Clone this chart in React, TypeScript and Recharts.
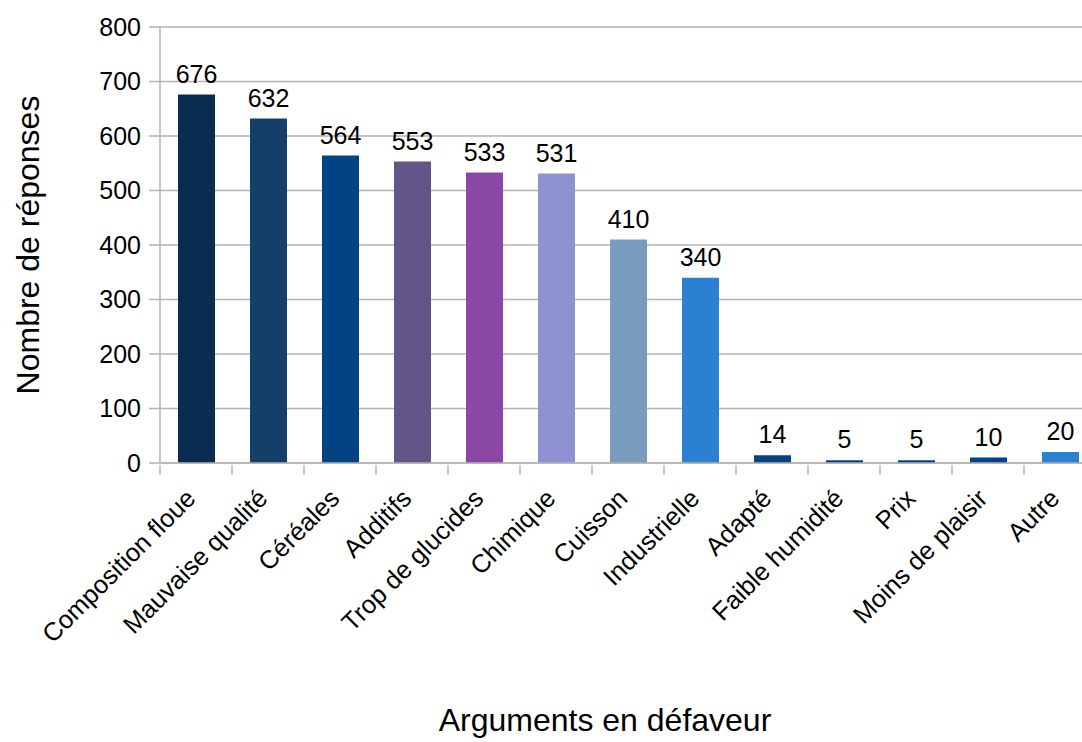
import React from 'react';
import { BarChart, Bar, XAxis, YAxis, CartesianGrid, Cell, LabelList, Label } from 'recharts';

const categories = [
  'Composition floue', 'Mauvaise qualité', 'Céréales', 'Additifs', 'Trop de glucides',
  'Chimique', 'Cuisson', 'Industrielle', 'Adapté', 'Faible humidité', 'Prix',
  'Moins de plaisir', 'Autre',
];
const counts = [676, 632, 564, 553, 533, 531, 410, 340, 14, 5, 5, 10, 20];
const barColors = [
  '#0a2c51', '#133f69', '#034384', '#625689', '#8a47a6', '#8e92d1', '#799cbe',
  '#2c80d2', '#034384', '#034384', '#034384', '#034384', '#2c80d2',
];
const yTicks = [0, 100, 200, 300, 400, 500, 600, 700, 800];

const data = categories.map((name, i) => ({ name, value: counts[i] }));

const FONT = '"Liberation Sans", Arial, sans-serif';
const GRID = '#b3b3b3';

const RotTick = (props: any) => {
  const { x, y, payload, index } = props;
  const half = payload && typeof payload.offset === 'number' ? payload.offset : 0;
  const isLast = index === categories.length - 1;
  return (
    <g>
      {half > 0 && (
        <line x1={x - half} x2={x - half} y1={y - 8} y2={y + 2} stroke={GRID} strokeWidth={1.5} />
      )}
      {half > 0 && isLast && (
        <line x1={x + half} x2={x + half} y1={y - 8} y2={y + 2} stroke={GRID} strokeWidth={1.5} />
      )}
      <g transform={`translate(${x + 1},${y + 27})`}>
        <text textAnchor="end" transform="rotate(-45)" fontFamily={FONT} fontSize={25.5} fill="#000">
          {payload.value}
        </text>
      </g>
    </g>
  );
};

export default function App() {
  return (
    <div style={{ position: 'absolute', left: 0, top: 0, width: 1082, height: 742, overflow: 'hidden', background: '#fff' }}>
      <BarChart
        width={1110}
        height={742}
        data={data}
        margin={{ top: 27, right: 14, bottom: 0, left: 0 }}
        style={{ fontFamily: FONT }}
      >
        <CartesianGrid vertical={false} stroke={GRID} strokeWidth={1.5} />
        <XAxis
          dataKey="name"
          interval={0}
          axisLine={{ stroke: GRID, strokeWidth: 1.5 }}
          tickLine={false}
          tickSize={8}
          tick={<RotTick />}
          height={279}
        >
          <Label
            value="Arguments en défaveur"
            position="insideBottom"
            offset={11}
            dx={-23}
            style={{ fontFamily: FONT, fontSize: 32, fill: '#000' }}
          />
        </XAxis>
        <YAxis
          domain={[0, 800]}
          ticks={yTicks}
          width={160}
          axisLine={{ stroke: GRID, strokeWidth: 1.5 }}
          tickLine={{ stroke: GRID, strokeWidth: 1.5 }}
          tickSize={11}
          tickMargin={8}
          tick={{ fontFamily: FONT, fontSize: 25, fill: '#000' }}
        >
          <Label
            value="Nombre de réponses"
            angle={-90}
            position="center"
            dx={-52}
            style={{ fontFamily: FONT, fontSize: 32, fill: '#000', textAnchor: 'middle' }}
          />
        </YAxis>
        <Bar dataKey="value" barSize={37} isAnimationActive={false}>
          {data.map((d, i) => (
            <Cell key={d.name} fill={barColors[i]} />
          ))}
          <LabelList
            dataKey="value"
            position="top"
            offset={12}
            style={{ fontFamily: FONT, fontSize: 25, fill: '#000' }}
          />
        </Bar>
      </BarChart>
    </div>
  );
}
